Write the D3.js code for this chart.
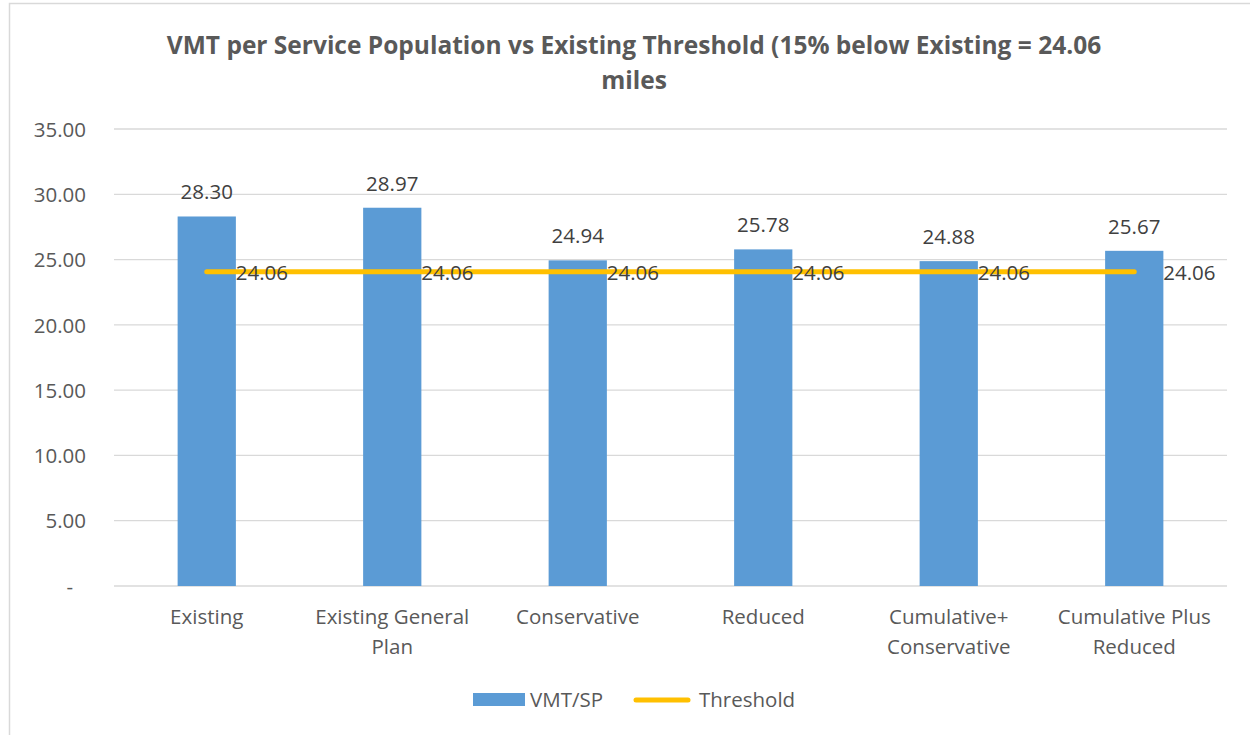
<!DOCTYPE html>
<html><head><meta charset="utf-8">
<script src="https://cdn.jsdelivr.net/npm/d3@7"></script>
<style>
body{margin:0;background:#fff;}
text{font-family:"Open Sans","Noto Sans",sans-serif;}
</style></head>
<body><svg id="c" width="1250" height="735"></svg>
<script>
const categories = [["Existing"],["Existing General","Plan"],["Conservative"],["Reduced"],["Cumulative+","Conservative"],["Cumulative Plus","Reduced"]];
const vmtValues = [28.30, 28.97, 24.94, 25.78, 24.88, 25.67];
const thresholdValues = [24.06, 24.06, 24.06, 24.06, 24.06, 24.06];
const yTicks = [0,5,10,15,20,25,30,35];
const titleLines = ["VMT per Service Population vs Existing Threshold (15% below Existing = 24.06","miles"];

const svg = d3.select("#c");
const textColor = "#595959";
const fs = "20.5px";
// chart border
svg.append("rect").attr("x",9.5).attr("y",3.5).attr("width",1260).attr("height",760)
  .attr("fill","#fff").attr("stroke","#d9d9d9").attr("stroke-width",1.5);

const L=114, R=1227, T=129, B=586;
const x = d3.scaleBand().domain(d3.range(categories.length)).range([L,R]).paddingInner(0.686).paddingOuter(0.343);
const y = d3.scaleLinear().domain([0,35]).range([B,T]);

// grid
svg.append("g").selectAll("line").data(yTicks).join("line")
  .attr("x1",L).attr("x2",R).attr("y1",d=>y(d)).attr("y2",d=>y(d))
  .attr("stroke","#d9d9d9").attr("stroke-width",1.3);

// y axis labels
const yAxis = d3.axisLeft(y).tickValues(yTicks).tickSize(0).tickPadding(0)
  .tickFormat(d=> d===0 ? "-" : d3.format(".2f")(d));
const ya = svg.append("g").attr("transform",`translate(86,0)`).call(yAxis);
ya.select(".domain").remove();
ya.selectAll("text").attr("fill",textColor).style("font-size",fs).style("font-family",'"Open Sans",sans-serif').attr("dy","0.35em");
ya.selectAll(".tick").filter(d=>d===0).select("text").attr("transform","translate(-13,0)");

// bars
svg.append("g").selectAll("rect").data(vmtValues).join("rect")
  .attr("x",(d,i)=>x(i)).attr("width",x.bandwidth())
  .attr("y",d=>y(d)).attr("height",d=>B-y(d)).attr("fill","#5b9bd5");

// bar labels
svg.append("g").selectAll("text").data(vmtValues).join("text")
  .attr("x",(d,i)=>x(i)+x.bandwidth()/2).attr("y",d=>y(d)-17)
  .attr("text-anchor","middle").attr("fill","#404040").style("font-size",fs)
  .text(d=>d3.format(".2f")(d));

// threshold line
const cx = i => x(i)+x.bandwidth()/2;
const line = d3.line().x((d,i)=>cx(i)).y(d=>y(d));
svg.append("path").datum(thresholdValues).attr("d",line)
  .attr("fill","none").attr("stroke","#ffc000").attr("stroke-width",5).attr("stroke-linecap","round");

svg.append("g").selectAll("text").data(thresholdValues).join("text")
  .attr("x",(d,i)=>cx(i)+29).attr("y",d=>y(d)+1).attr("dy","0.35em")
  .attr("fill","#404040").style("font-size",fs)
  .text(d=>d3.format(".2f")(d));

// x labels
const xl = svg.append("g").selectAll("text").data(categories).join("text")
  .attr("text-anchor","middle").attr("fill",textColor).style("font-size",fs);
xl.each(function(lines,i){
  const t=d3.select(this);
  lines.forEach((s,j)=>t.append("tspan").attr("x",cx(i)).attr("y",617+j*30).attr("dy","0.35em").text(s));
});

// title
const tt = svg.append("text").attr("text-anchor","middle").attr("fill",textColor)
  .style("font-size","24.5px").style("font-weight","bold");
titleLines.forEach((s,j)=>tt.append("tspan").attr("x",634).attr("y",45+j*35).attr("dy","0.35em").text(s));

// legend
svg.append("rect").attr("x",473).attr("y",693).attr("width",52).attr("height",13).attr("fill","#5b9bd5");
svg.append("text").attr("x",530).attr("y",700).attr("dy","0.35em").attr("fill",textColor).style("font-size",fs).text("VMT/SP");
svg.append("line").attr("x1",636).attr("x2",688).attr("y1",700).attr("y2",700)
  .attr("stroke","#ffc000").attr("stroke-width",5).attr("stroke-linecap","round");
svg.append("text").attr("x",699).attr("y",700).attr("dy","0.35em").attr("fill",textColor).style("font-size",fs).text("Threshold");
</script></body></html>
